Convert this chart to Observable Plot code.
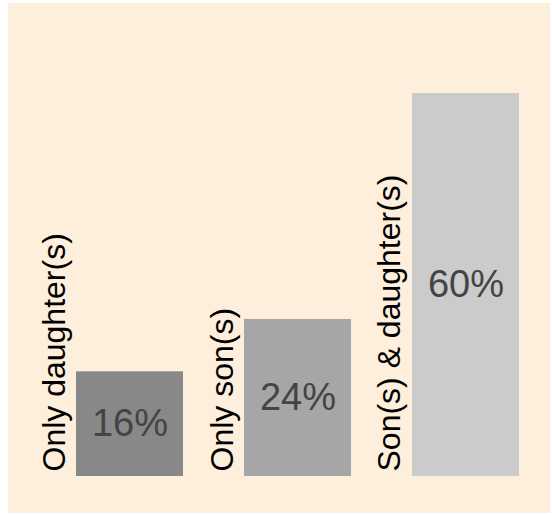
<!DOCTYPE html>
<html>
<head>
<meta charset="utf-8">
<script src="https://cdn.jsdelivr.net/npm/d3@7"></script>
<script src="https://cdn.jsdelivr.net/npm/@observablehq/plot@0.6"></script>
<style>
  html, body { margin: 0; padding: 0; background: #ffffff; }
  #chart svg { display: block; margin: 3px 0 0 8px; }
</style>
</head>
<body>
<div id="chart"></div>
<script>
const categories = ["Only daughter(s)", "Only son(s)", "Son(s) & daughter(s)"];
const shares = [16.4, 24.6, 60];
const shareLabels = ["16%", "24%", "60%"];

const data = categories.map((c, i) => ({category: c, share: shares[i], label: shareLabels[i]}));

const chart = Plot.plot({
  width: 542,
  height: 510,
  marginLeft: 68,
  marginRight: 31,
  marginTop: 90,
  marginBottom: 37,
  style: {background: "#fdefdb", fontFamily: "'Liberation Sans', Arial, sans-serif"},
  x: {domain: categories, paddingInner: 0.363, paddingOuter: 0, round: false, axis: null},
  y: {domain: [0, 60], axis: null},
  color: {domain: categories, range: ["#888888", "#a6a6a6", "#cbcbcb"]},
  marks: [
    Plot.barY(data, {x: "category", y: "share", fill: "category"}),
    Plot.text(data, {
      x: "category", y: d => d.share / 2, text: "label",
      fill: "#444444", fontSize: 38, lineAnchor: "middle"
    }),
    Plot.text(data, {
      x: "category", y: 0, text: "category",
      rotate: -90, textAnchor: "start", lineAnchor: "bottom",
      fill: "#000000", fontSize: 32, dx: -65.5, dy: -5
    })
  ]
});
document.getElementById("chart").appendChild(chart);
</script>
</body>
</html>
